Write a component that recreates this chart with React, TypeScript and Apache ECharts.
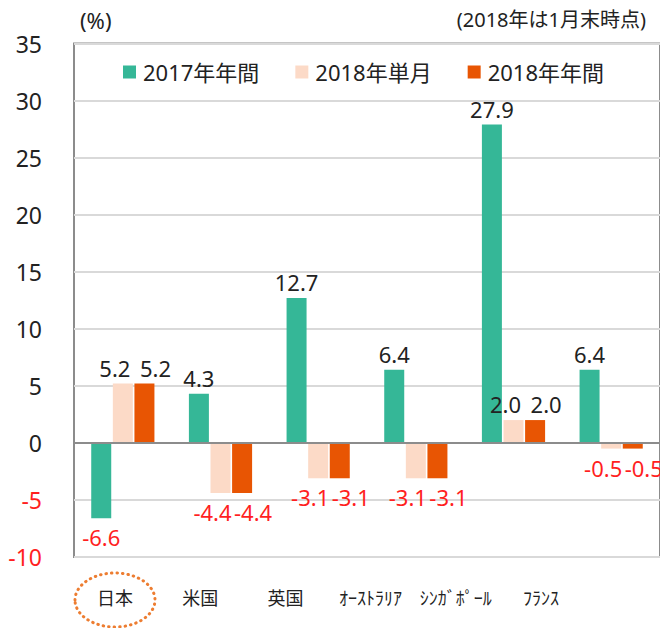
import React, { useEffect, useRef } from "react";
import * as echarts from "echarts";

const categories = ["日本", "米国", "英国", "ｵｰｽﾄﾗﾘｱ", "ｼﾝｶﾞﾎﾟｰﾙ", "ﾌﾗﾝｽ"];
const seriesNames = ["2017年年間", "2018年単月", "2018年年間"];
const values2017 = [-6.6, 4.3, 12.7, 6.4, 27.9, 6.4];
const values2018Month = [5.2, -4.4, -3.1, -3.1, 2.0, -0.5];
const values2018Year = [5.2, -4.4, -3.1, -3.1, 2.0, -0.5];
const yMin = -10;
const yMax = 35;
const yInterval = 5;
const unitLabel = "(%)";
const noteLabel = "(2018年は1月末時点)";

const COLORS = ["#35B797", "#FCDAC7", "#E85503"];
const RED = "#FF1F1F";
const NUM_FONT = "'Noto Sans', 'Noto Sans CJK JP', sans-serif";
const JP_FONT = "'Noto Sans CJK JP', sans-serif";

const toData = (arr: number[]) =>
  arr.map((v) =>
    v < 0
      ? { value: v, label: { position: "bottom", distance: 8, color: RED } }
      : { value: v }
  );

export default function App() {
  const ref = useRef<HTMLDivElement>(null);
  useEffect(() => {
    if (!ref.current) return;
    const chart = echarts.init(ref.current, undefined, { renderer: "svg" });
    const labelBase = {
      show: true,
      position: "top",
      distance: 5,
      fontSize: 22,
      color: "#222",
      fontFamily: NUM_FONT,
      formatter: (p: any) => Number(p.value).toFixed(1),
    };
    const valueSets = [values2017, values2018Month, values2018Year];
    const offsets = [[0, 0], [-8, 0], [11, 0]];
    chart.setOption({
      animation: false,
      backgroundColor: "#fff",
      legend: {
        left: 123,
        top: 61,
        padding: 0,
        icon: "rect",
        itemWidth: 13,
        itemHeight: 13,
        itemGap: 36,
        textStyle: { fontSize: 22, color: "#222", fontFamily: NUM_FONT, padding: [0, 0, 0, 2] },
        data: seriesNames,
      },
      grid: [
        {
          left: 74,
          right: -2,
          top: 43.5,
          bottom: 71,
          show: true,
          borderColor: "#8c8c8c",
          borderWidth: 2,
        },
        { left: 72.5, width: 511, top: 560, height: 10 },
      ],
      xAxis: [
        {
          type: "category",
          data: categories,
          gridIndex: 0,
          axisLine: { show: false },
          axisTick: { show: false },
          axisLabel: { show: false },
        },
        {
          type: "category",
          data: categories,
          gridIndex: 1,
          axisLine: { show: false },
          axisTick: { show: false },
          axisLabel: {
            interval: 0,
            margin: 18,
            fontSize: 18,
            color: "#222",
            fontFamily: JP_FONT,
          },
        },
      ],
      yAxis: [
        {
          type: "value",
          gridIndex: 0,
          min: yMin,
          max: yMax,
          interval: yInterval,
          axisLine: { show: false },
          axisTick: { show: false },
          splitLine: { lineStyle: { color: "#d9d9d9", width: 2 } },
          axisLabel: {
            margin: 32,
            fontSize: 23,
            fontFamily: NUM_FONT,
            color: (v: any) => (Number(v) < 0 ? RED : "#222"),
          },
        },
        { type: "value", gridIndex: 1, show: false },
      ],
      series: seriesNames.map((name, i) => ({
        name,
        type: "bar",
        xAxisIndex: 0,
        yAxisIndex: 0,
        barWidth: 20,
        barGap: "8%",
        itemStyle: { color: COLORS[i] },
        label: { ...labelBase, offset: offsets[i] },
        data: toData(valueSets[i]),
        ...(i === 0
          ? {
              markLine: {
                silent: true,
                symbol: ["none", "none"],
                label: { show: false },
                lineStyle: { color: "#8c8c8c", width: 2, type: "solid" },
                data: [{ yAxis: 0 }],
              },
            }
          : {}),
      })),
      graphic: [
        {
          type: "text",
          left: 80,
          top: 9,
          style: { text: unitLabel, fontSize: 22, fill: "#222", fontFamily: NUM_FONT },
        },
        {
          type: "text",
          right: 14,
          top: 9,
          style: { text: noteLabel, fontSize: 20, fill: "#222", fontFamily: NUM_FONT },
        },
        {
          type: "ellipse",
          shape: { cx: 115, cy: 600, rx: 40, ry: 27 },
          style: {
            fill: "none",
            stroke: "#ED7D31",
            lineWidth: 3,
            lineDash: [0.5, 5],
            lineCap: "round",
          },
        },
      ],
    });
    return () => chart.dispose();
  }, []);
  return (
    <div
      ref={ref}
      style={{ position: "absolute", left: 0, top: 0, width: 660, height: 628 }}
    />
  );
}
